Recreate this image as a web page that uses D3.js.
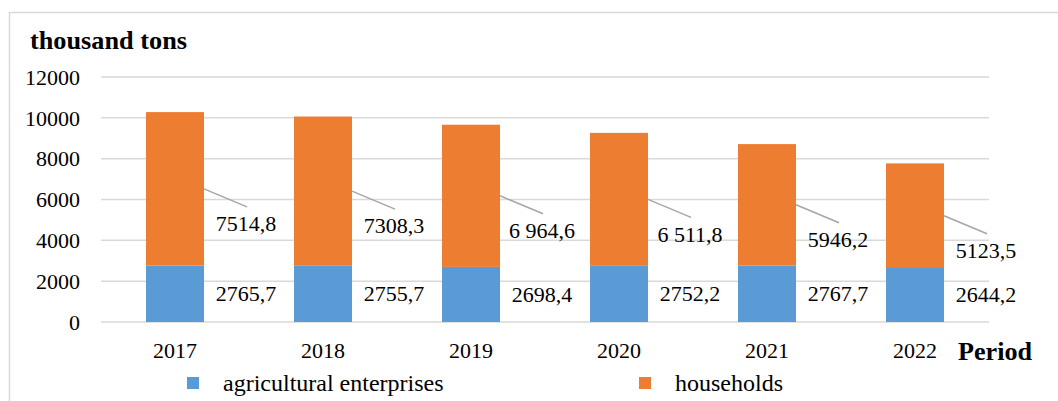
<!DOCTYPE html>
<html><head><meta charset="utf-8">
<script src="https://cdn.jsdelivr.net/npm/d3@7"></script>
<style>
html,body{margin:0;padding:0;background:#fff;}
</style></head>
<body>
<svg id="chart" width="1058" height="401"></svg>
<script>
const categories = ["2017","2018","2019","2020","2021","2022"];
const enterprises = [2765.7, 2755.7, 2698.4, 2752.2, 2767.7, 2644.2];
const households = [7514.8, 7308.3, 6964.6, 6511.8, 5946.2, 5123.5];
const enterpriseLabels = ["2765,7","2755,7","2698,4","2752,2","2767,7","2644,2"];
const householdLabels = ["7514,8","7308,3","6 964,6","6 511,8","5946,2","5123,5"];
const yTicks = [0, 2000, 4000, 6000, 8000, 10000, 12000];
const seriesNames = ["agricultural enterprises", "households"];
const colors = ["#5B9BD5", "#ED7D31"];

(function () {
const FONT = '"Liberation Serif", "Times New Roman", serif';
const svg = d3.select("#chart");
// outer border
svg.append("rect").attr("x",9.5).attr("y",12.5).attr("width",1060).attr("height",400)
  .attr("fill","none").attr("stroke","#d9d9d9").attr("stroke-width",1.5);

const pl = 101, pr = 989, pt = 77, pb = 322;
const x = d3.scaleBand().domain(categories).range([pl, pr]).paddingInner(0.608).paddingOuter(0.304);
const y = d3.scaleLinear().domain([0, 12000]).range([pb, pt]);

// gridlines
svg.append("g").selectAll("line").data(yTicks).join("line")
  .attr("x1", pl).attr("x2", pr)
  .attr("y1", d => y(d)).attr("y2", d => y(d))
  .attr("stroke", "#d9d9d9").attr("stroke-width", 1.5);

// y axis labels
const yAxis = d3.axisLeft(y).tickValues(yTicks).tickSize(0).tickPadding(0).tickFormat(d => String(d));
const yg = svg.append("g").attr("transform", "translate(80,0)").call(yAxis);
yg.select(".domain").remove();
yg.selectAll("text").style("font-family", FONT).style("font-size", "22px").attr("fill", "#000").attr("dy", "0.33em");

// x axis labels
const xAxis = d3.axisBottom(x).tickSize(0).tickPadding(0);
const xg = svg.append("g").attr("transform", "translate(0,351)").call(xAxis);
xg.select(".domain").remove();
xg.selectAll("text").style("font-family", FONT).style("font-size", "22px").attr("fill", "#000").attr("dy", "0.33em");

const stackData = categories.map((c, i) => ({cat: c, ent: enterprises[i], hh: households[i]}));
const stack = d3.stack().keys(["ent", "hh"])(stackData);

svg.append("g").selectAll("g").data(stack).join("g")
  .attr("fill", (d, i) => colors[i])
  .selectAll("rect").data(d => d).join("rect")
  .attr("x", d => x(d.data.cat))
  .attr("width", x.bandwidth())
  .attr("y", d => y(d[1]))
  .attr("height", d => y(d[0]) - y(d[1]));

// enterprise labels
svg.append("g").selectAll("text").data(stack[0]).join("text")
  .attr("x", d => x(d.data.cat) + x.bandwidth() + 42)
  .attr("y", d => y((d[0] + d[1]) / 2))
  .attr("dy", "0.33em")
  .attr("text-anchor", "middle").style("font-family", FONT).style("font-size", "22px").attr("fill", "#000")
  .text((d, i) => enterpriseLabels[i]);

// household leader lines and labels
const hh = stack[1];
svg.append("g").selectAll("line").data(hh).join("line")
  .attr("x1", d => x(d.data.cat) + x.bandwidth())
  .attr("y1", d => y((d[0] + d[1]) / 2))
  .attr("x2", d => x(d.data.cat) + x.bandwidth() + 43)
  .attr("y2", d => y((d[0] + d[1]) / 2) + 18)
  .attr("stroke", "#a6a6a6").attr("stroke-width", 1.5);
svg.append("g").selectAll("text").data(hh).join("text")
  .attr("x", d => x(d.data.cat) + x.bandwidth() + 42)
  .attr("y", d => y((d[0] + d[1]) / 2) + 35)
  .attr("dy", "0.33em")
  .attr("text-anchor", "middle").style("font-family", FONT).style("font-size", "22px").attr("fill", "#000")
  .text((d, i) => householdLabels[i]);

// titles
svg.append("text").attr("x", 30).attr("y", 49).style("font-family", FONT).style("font-size", "25px").style("font-weight", "bold")
  .attr("textLength", 157).attr("lengthAdjust", "spacingAndGlyphs")
  .attr("fill", "#000").text("thousand tons");
svg.append("text").attr("x", 958).attr("y", 360).style("font-family", FONT).style("font-size", "25px").style("font-weight", "bold")
  .attr("textLength", 74).attr("lengthAdjust", "spacingAndGlyphs")
  .attr("fill", "#000").text("Period");

// legend
const legendX = [187, 639];
const lg = svg.append("g").selectAll("g").data(seriesNames).join("g")
  .attr("transform", (d, i) => `translate(${legendX[i]},377)`);
lg.append("rect").attr("width", 12).attr("height", 12).attr("fill", (d, i) => colors[i]);
lg.append("text").attr("x", 36).attr("y", 6).attr("dy", "0.35em").style("font-family", FONT).style("font-size", "24px")
  .attr("fill", "#000").text(d => d);
})();
</script>
</body></html>
